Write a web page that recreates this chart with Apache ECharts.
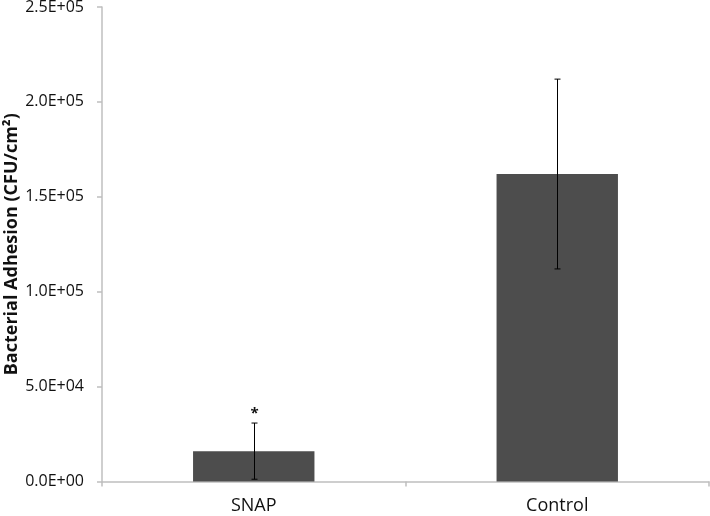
<!DOCTYPE html>
<html>
<head>
<meta charset="utf-8">
<script src="https://cdn.jsdelivr.net/npm/echarts@6/dist/echarts.min.js"></script>
<style>html,body{margin:0;padding:0;background:#fff}#c{width:710px;height:516px}</style>
</head>
<body>
<div id="c"></div>
<script>
const categories = ['SNAP', 'Control'];
const means = [16000, 162000];
const errors = [14800, 50000];
const marks = ['*', ''];
const yMin = 0, yMax = 250000, yStep = 50000;

function sci(v) {
  if (v === 0) return '0.0E+00';
  const e = Math.floor(Math.log10(Math.abs(v)));
  const m = v / Math.pow(10, e);
  return m.toFixed(1) + 'E' + (e >= 0 ? '+' : '-') + String(Math.abs(e)).padStart(2, '0');
}

const chart = echarts.init(document.getElementById('c'), null, {renderer: 'canvas'});
const axisGray = '#bfbfbf';
const font = '"Open Sans", "Noto Sans", sans-serif';

chart.setOption({
  animation: false,
  grid: {left: 102, right: 1, top: 7, bottom: 34.5, containLabel: false, outerBoundsMode: 'none'},
  xAxis: {
    type: 'category',
    data: categories,
    axisLine: {lineStyle: {color: axisGray, width: 1.5}},
    axisTick: {show: true, length: 5, lineStyle: {color: axisGray, width: 1.5}},
    axisLabel: {color: '#111', fontFamily: font, fontSize: 18, margin: 15}
  },
  yAxis: {
    type: 'value',
    min: yMin, max: yMax, interval: yStep,
    name: 'Bacterial Adhesion (CFU/cm²)',
    nameLocation: 'middle',
    nameGap: 81,
    nameMoveOverlap: false,
    nameTextStyle: {fontFamily: font, fontSize: 18, fontWeight: 'bold', color: '#111'},
    splitLine: {show: false},
    axisLine: {show: true, lineStyle: {color: axisGray, width: 1.5}},
    axisTick: {show: true, length: 5, lineStyle: {color: axisGray, width: 1.5}},
    axisLabel: {color: '#111', fontFamily: font, fontSize: 16, margin: 18, formatter: sci}
  },
  series: [
    {
      type: 'bar',
      data: means,
      barWidth: '40%',
      itemStyle: {color: '#4d4d4d'}
    },
    {
      type: 'custom',
      data: categories.map((c, i) => [i, means[i] - errors[i], means[i] + errors[i]]),
      renderItem: function (params, api) {
        const i = api.value(0);
        const lo = api.coord([i, api.value(1)]);
        const hi = api.coord([i, api.value(2)]);
        const x = Math.round(lo[0]) + 0.5;
        const cap = 3;
        const style = {stroke: '#000', lineWidth: 1};
        const children = [
          {type: 'line', shape: {x1: x, y1: hi[1], x2: x, y2: lo[1]}, style: style},
          {type: 'line', shape: {x1: x - cap, y1: hi[1], x2: x + cap, y2: hi[1]}, style: style},
          {type: 'line', shape: {x1: x - cap, y1: lo[1], x2: x + cap, y2: lo[1]}, style: style}
        ];
        const m = marks[params.dataIndex];
        if (m) {
          children.push({type: 'text', style: {text: m, x: x, y: hi[1] - 17, align: 'center', verticalAlign: 'top', font: 'bold 15px ' + font, fill: '#111'}});
        }
        return {type: 'group', children: children};
      },
      z: 5
    }
  ]
});
</script>
</body>
</html>
